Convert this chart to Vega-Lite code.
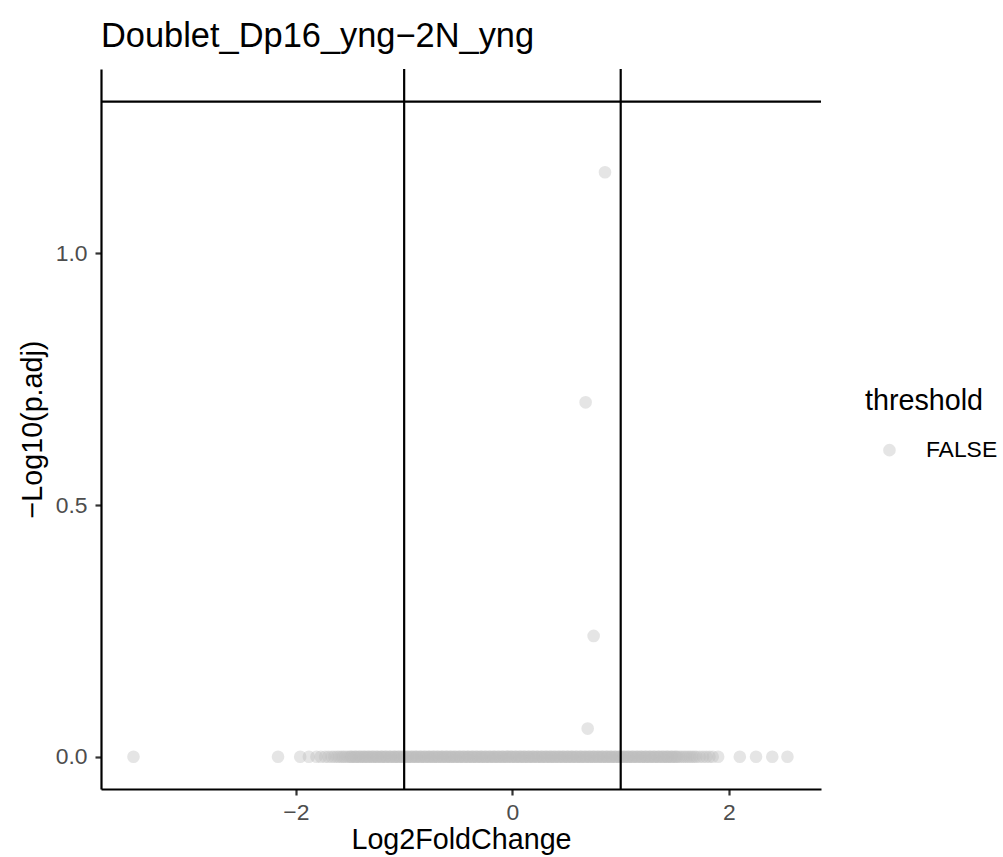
{
  "$schema": "https://vega.github.io/schema/vega-lite/v6.json",
  "width": 720,
  "height": 720,
  "autosize": "none",
  "padding": {"left": 101, "top": 69, "right": 182, "bottom": 68},
  "title": {"text": "Doublet_Dp16_yng−2N_yng", "anchor": "start", "frame": "group", "baseline": "alphabetic", "offset": 22, "dy": 35, "fontSize": 34.4, "font": "Liberation Sans", "fontWeight": "normal", "color": "#000000"},
  "config": {
    "view": {"stroke": null},
    "axis": {"grid": false, "domainColor": "#000000", "domainWidth": 2.2, "tickColor": "#333333", "tickWidth": 2.2, "tickSize": 6, "labelColor": "#4d4d4d", "labelFont": "Liberation Sans", "labelFontSize": 22.9, "titleFont": "Liberation Sans", "titleFontSize": 28.7, "titleFontWeight": "normal", "titleColor": "#000000"}
  },
  "datasets": {
    "genes": [
      {"log2fc": 0.855, "nlp": 1.161, "threshold": "FALSE"},
      {"log2fc": 0.676, "nlp": 0.704, "threshold": "FALSE"},
      {"log2fc": 0.75, "nlp": 0.24, "threshold": "FALSE"},
      {"log2fc": 0.695, "nlp": 0.056, "threshold": "FALSE"},
      {"log2fc": -3.5, "nlp": 0, "threshold": "FALSE"},
      {"log2fc": -2.165, "nlp": 0, "threshold": "FALSE"},
      {"log2fc": -1.96, "nlp": 0, "threshold": "FALSE"},
      {"log2fc": -1.88, "nlp": 0, "threshold": "FALSE"},
      {"log2fc": -1.81, "nlp": 0, "threshold": "FALSE"},
      {"log2fc": -1.77, "nlp": 0, "threshold": "FALSE"},
      {"log2fc": -1.73, "nlp": 0, "threshold": "FALSE"},
      {"log2fc": -1.7, "nlp": 0, "threshold": "FALSE"},
      {"log2fc": -1.67, "nlp": 0, "threshold": "FALSE"},
      {"log2fc": -1.645, "nlp": 0, "threshold": "FALSE"},
      {"log2fc": -1.62, "nlp": 0, "threshold": "FALSE"},
      {"log2fc": -1.6, "nlp": 0, "threshold": "FALSE"},
      {"log2fc": -1.578, "nlp": 0, "threshold": "FALSE"},
      {"log2fc": -1.561, "nlp": 0, "threshold": "FALSE"},
      {"log2fc": -1.543, "nlp": 0, "threshold": "FALSE"},
      {"log2fc": -1.522, "nlp": 0, "threshold": "FALSE"},
      {"log2fc": -1.504, "nlp": 0, "threshold": "FALSE"},
      {"log2fc": -1.483, "nlp": 0, "threshold": "FALSE"},
      {"log2fc": -1.462, "nlp": 0, "threshold": "FALSE"},
      {"log2fc": -1.441, "nlp": 0, "threshold": "FALSE"},
      {"log2fc": -1.423, "nlp": 0, "threshold": "FALSE"},
      {"log2fc": -1.401, "nlp": 0, "threshold": "FALSE"},
      {"log2fc": -1.382, "nlp": 0, "threshold": "FALSE"},
      {"log2fc": -1.36, "nlp": 0, "threshold": "FALSE"},
      {"log2fc": -1.343, "nlp": 0, "threshold": "FALSE"},
      {"log2fc": -1.321, "nlp": 0, "threshold": "FALSE"},
      {"log2fc": -1.302, "nlp": 0, "threshold": "FALSE"},
      {"log2fc": -1.28, "nlp": 0, "threshold": "FALSE"},
      {"log2fc": -1.262, "nlp": 0, "threshold": "FALSE"},
      {"log2fc": -1.241, "nlp": 0, "threshold": "FALSE"},
      {"log2fc": -1.219, "nlp": 0, "threshold": "FALSE"},
      {"log2fc": -1.2, "nlp": 0, "threshold": "FALSE"},
      {"log2fc": -1.181, "nlp": 0, "threshold": "FALSE"},
      {"log2fc": -1.162, "nlp": 0, "threshold": "FALSE"},
      {"log2fc": -1.14, "nlp": 0, "threshold": "FALSE"},
      {"log2fc": -1.121, "nlp": 0, "threshold": "FALSE"},
      {"log2fc": -1.099, "nlp": 0, "threshold": "FALSE"},
      {"log2fc": -1.08, "nlp": 0, "threshold": "FALSE"},
      {"log2fc": -1.061, "nlp": 0, "threshold": "FALSE"},
      {"log2fc": -1.04, "nlp": 0, "threshold": "FALSE"},
      {"log2fc": -1.022, "nlp": 0, "threshold": "FALSE"},
      {"log2fc": -1.001, "nlp": 0, "threshold": "FALSE"},
      {"log2fc": -0.981, "nlp": 0, "threshold": "FALSE"},
      {"log2fc": -0.96, "nlp": 0, "threshold": "FALSE"},
      {"log2fc": -0.942, "nlp": 0, "threshold": "FALSE"},
      {"log2fc": -0.919, "nlp": 0, "threshold": "FALSE"},
      {"log2fc": -0.9, "nlp": 0, "threshold": "FALSE"},
      {"log2fc": -0.882, "nlp": 0, "threshold": "FALSE"},
      {"log2fc": -0.861, "nlp": 0, "threshold": "FALSE"},
      {"log2fc": -0.84, "nlp": 0, "threshold": "FALSE"},
      {"log2fc": -0.821, "nlp": 0, "threshold": "FALSE"},
      {"log2fc": -0.8, "nlp": 0, "threshold": "FALSE"},
      {"log2fc": -0.779, "nlp": 0, "threshold": "FALSE"},
      {"log2fc": -0.761, "nlp": 0, "threshold": "FALSE"},
      {"log2fc": -0.74, "nlp": 0, "threshold": "FALSE"},
      {"log2fc": -0.72, "nlp": 0, "threshold": "FALSE"},
      {"log2fc": -0.701, "nlp": 0, "threshold": "FALSE"},
      {"log2fc": -0.68, "nlp": 0, "threshold": "FALSE"},
      {"log2fc": -0.659, "nlp": 0, "threshold": "FALSE"},
      {"log2fc": -0.641, "nlp": 0, "threshold": "FALSE"},
      {"log2fc": -0.62, "nlp": 0, "threshold": "FALSE"},
      {"log2fc": -0.6, "nlp": 0, "threshold": "FALSE"},
      {"log2fc": -0.581, "nlp": 0, "threshold": "FALSE"},
      {"log2fc": -0.56, "nlp": 0, "threshold": "FALSE"},
      {"log2fc": -0.542, "nlp": 0, "threshold": "FALSE"},
      {"log2fc": -0.52, "nlp": 0, "threshold": "FALSE"},
      {"log2fc": -0.499, "nlp": 0, "threshold": "FALSE"},
      {"log2fc": -0.48, "nlp": 0, "threshold": "FALSE"},
      {"log2fc": -0.461, "nlp": 0, "threshold": "FALSE"},
      {"log2fc": -0.44, "nlp": 0, "threshold": "FALSE"},
      {"log2fc": -0.42, "nlp": 0, "threshold": "FALSE"},
      {"log2fc": -0.401, "nlp": 0, "threshold": "FALSE"},
      {"log2fc": -0.38, "nlp": 0, "threshold": "FALSE"},
      {"log2fc": -0.36, "nlp": 0, "threshold": "FALSE"},
      {"log2fc": -0.341, "nlp": 0, "threshold": "FALSE"},
      {"log2fc": -0.32, "nlp": 0, "threshold": "FALSE"},
      {"log2fc": -0.3, "nlp": 0, "threshold": "FALSE"},
      {"log2fc": -0.281, "nlp": 0, "threshold": "FALSE"},
      {"log2fc": -0.26, "nlp": 0, "threshold": "FALSE"},
      {"log2fc": -0.24, "nlp": 0, "threshold": "FALSE"},
      {"log2fc": -0.221, "nlp": 0, "threshold": "FALSE"},
      {"log2fc": -0.2, "nlp": 0, "threshold": "FALSE"},
      {"log2fc": -0.18, "nlp": 0, "threshold": "FALSE"},
      {"log2fc": -0.161, "nlp": 0, "threshold": "FALSE"},
      {"log2fc": -0.14, "nlp": 0, "threshold": "FALSE"},
      {"log2fc": -0.12, "nlp": 0, "threshold": "FALSE"},
      {"log2fc": -0.101, "nlp": 0, "threshold": "FALSE"},
      {"log2fc": -0.08, "nlp": 0, "threshold": "FALSE"},
      {"log2fc": -0.06, "nlp": 0, "threshold": "FALSE"},
      {"log2fc": -0.041, "nlp": 0, "threshold": "FALSE"},
      {"log2fc": -0.02, "nlp": 0, "threshold": "FALSE"},
      {"log2fc": 0.0, "nlp": 0, "threshold": "FALSE"},
      {"log2fc": 0.021, "nlp": 0, "threshold": "FALSE"},
      {"log2fc": 0.04, "nlp": 0, "threshold": "FALSE"},
      {"log2fc": 0.06, "nlp": 0, "threshold": "FALSE"},
      {"log2fc": 0.081, "nlp": 0, "threshold": "FALSE"},
      {"log2fc": 0.1, "nlp": 0, "threshold": "FALSE"},
      {"log2fc": 0.12, "nlp": 0, "threshold": "FALSE"},
      {"log2fc": 0.141, "nlp": 0, "threshold": "FALSE"},
      {"log2fc": 0.16, "nlp": 0, "threshold": "FALSE"},
      {"log2fc": 0.18, "nlp": 0, "threshold": "FALSE"},
      {"log2fc": 0.199, "nlp": 0, "threshold": "FALSE"},
      {"log2fc": 0.22, "nlp": 0, "threshold": "FALSE"},
      {"log2fc": 0.24, "nlp": 0, "threshold": "FALSE"},
      {"log2fc": 0.261, "nlp": 0, "threshold": "FALSE"},
      {"log2fc": 0.28, "nlp": 0, "threshold": "FALSE"},
      {"log2fc": 0.3, "nlp": 0, "threshold": "FALSE"},
      {"log2fc": 0.321, "nlp": 0, "threshold": "FALSE"},
      {"log2fc": 0.34, "nlp": 0, "threshold": "FALSE"},
      {"log2fc": 0.36, "nlp": 0, "threshold": "FALSE"},
      {"log2fc": 0.379, "nlp": 0, "threshold": "FALSE"},
      {"log2fc": 0.4, "nlp": 0, "threshold": "FALSE"},
      {"log2fc": 0.42, "nlp": 0, "threshold": "FALSE"},
      {"log2fc": 0.441, "nlp": 0, "threshold": "FALSE"},
      {"log2fc": 0.46, "nlp": 0, "threshold": "FALSE"},
      {"log2fc": 0.48, "nlp": 0, "threshold": "FALSE"},
      {"log2fc": 0.501, "nlp": 0, "threshold": "FALSE"},
      {"log2fc": 0.52, "nlp": 0, "threshold": "FALSE"},
      {"log2fc": 0.54, "nlp": 0, "threshold": "FALSE"},
      {"log2fc": 0.559, "nlp": 0, "threshold": "FALSE"},
      {"log2fc": 0.58, "nlp": 0, "threshold": "FALSE"},
      {"log2fc": 0.6, "nlp": 0, "threshold": "FALSE"},
      {"log2fc": 0.621, "nlp": 0, "threshold": "FALSE"},
      {"log2fc": 0.64, "nlp": 0, "threshold": "FALSE"},
      {"log2fc": 0.66, "nlp": 0, "threshold": "FALSE"},
      {"log2fc": 0.681, "nlp": 0, "threshold": "FALSE"},
      {"log2fc": 0.7, "nlp": 0, "threshold": "FALSE"},
      {"log2fc": 0.72, "nlp": 0, "threshold": "FALSE"},
      {"log2fc": 0.739, "nlp": 0, "threshold": "FALSE"},
      {"log2fc": 0.76, "nlp": 0, "threshold": "FALSE"},
      {"log2fc": 0.78, "nlp": 0, "threshold": "FALSE"},
      {"log2fc": 0.801, "nlp": 0, "threshold": "FALSE"},
      {"log2fc": 0.82, "nlp": 0, "threshold": "FALSE"},
      {"log2fc": 0.84, "nlp": 0, "threshold": "FALSE"},
      {"log2fc": 0.861, "nlp": 0, "threshold": "FALSE"},
      {"log2fc": 0.88, "nlp": 0, "threshold": "FALSE"},
      {"log2fc": 0.9, "nlp": 0, "threshold": "FALSE"},
      {"log2fc": 0.919, "nlp": 0, "threshold": "FALSE"},
      {"log2fc": 0.94, "nlp": 0, "threshold": "FALSE"},
      {"log2fc": 0.96, "nlp": 0, "threshold": "FALSE"},
      {"log2fc": 0.981, "nlp": 0, "threshold": "FALSE"},
      {"log2fc": 1.0, "nlp": 0, "threshold": "FALSE"},
      {"log2fc": 1.02, "nlp": 0, "threshold": "FALSE"},
      {"log2fc": 1.041, "nlp": 0, "threshold": "FALSE"},
      {"log2fc": 1.06, "nlp": 0, "threshold": "FALSE"},
      {"log2fc": 1.08, "nlp": 0, "threshold": "FALSE"},
      {"log2fc": 1.099, "nlp": 0, "threshold": "FALSE"},
      {"log2fc": 1.12, "nlp": 0, "threshold": "FALSE"},
      {"log2fc": 1.14, "nlp": 0, "threshold": "FALSE"},
      {"log2fc": 1.161, "nlp": 0, "threshold": "FALSE"},
      {"log2fc": 1.18, "nlp": 0, "threshold": "FALSE"},
      {"log2fc": 1.2, "nlp": 0, "threshold": "FALSE"},
      {"log2fc": 1.221, "nlp": 0, "threshold": "FALSE"},
      {"log2fc": 1.24, "nlp": 0, "threshold": "FALSE"},
      {"log2fc": 1.26, "nlp": 0, "threshold": "FALSE"},
      {"log2fc": 1.279, "nlp": 0, "threshold": "FALSE"},
      {"log2fc": 1.3, "nlp": 0, "threshold": "FALSE"},
      {"log2fc": 1.32, "nlp": 0, "threshold": "FALSE"},
      {"log2fc": 1.341, "nlp": 0, "threshold": "FALSE"},
      {"log2fc": 1.36, "nlp": 0, "threshold": "FALSE"},
      {"log2fc": 1.38, "nlp": 0, "threshold": "FALSE"},
      {"log2fc": 1.401, "nlp": 0, "threshold": "FALSE"},
      {"log2fc": 1.42, "nlp": 0, "threshold": "FALSE"},
      {"log2fc": 1.44, "nlp": 0, "threshold": "FALSE"},
      {"log2fc": 1.459, "nlp": 0, "threshold": "FALSE"},
      {"log2fc": 1.48, "nlp": 0, "threshold": "FALSE"},
      {"log2fc": 1.5, "nlp": 0, "threshold": "FALSE"},
      {"log2fc": 1.521, "nlp": 0, "threshold": "FALSE"},
      {"log2fc": 1.54, "nlp": 0, "threshold": "FALSE"},
      {"log2fc": 1.56, "nlp": 0, "threshold": "FALSE"},
      {"log2fc": 1.581, "nlp": 0, "threshold": "FALSE"},
      {"log2fc": 1.6, "nlp": 0, "threshold": "FALSE"},
      {"log2fc": 1.62, "nlp": 0, "threshold": "FALSE"},
      {"log2fc": 1.64, "nlp": 0, "threshold": "FALSE"},
      {"log2fc": 1.66, "nlp": 0, "threshold": "FALSE"},
      {"log2fc": 1.68, "nlp": 0, "threshold": "FALSE"},
      {"log2fc": 1.7, "nlp": 0, "threshold": "FALSE"},
      {"log2fc": 1.73, "nlp": 0, "threshold": "FALSE"},
      {"log2fc": 1.76, "nlp": 0, "threshold": "FALSE"},
      {"log2fc": 1.79, "nlp": 0, "threshold": "FALSE"},
      {"log2fc": 1.82, "nlp": 0, "threshold": "FALSE"},
      {"log2fc": 1.85, "nlp": 0, "threshold": "FALSE"},
      {"log2fc": 1.9, "nlp": 0, "threshold": "FALSE"},
      {"log2fc": 2.1, "nlp": 0, "threshold": "FALSE"},
      {"log2fc": 2.25, "nlp": 0, "threshold": "FALSE"},
      {"log2fc": 2.4, "nlp": 0, "threshold": "FALSE"},
      {"log2fc": 2.54, "nlp": 0, "threshold": "FALSE"},
      {"log2fc": -1.49, "nlp": 0, "threshold": "FALSE"},
      {"log2fc": -1.45, "nlp": 0, "threshold": "FALSE"},
      {"log2fc": -1.41, "nlp": 0, "threshold": "FALSE"},
      {"log2fc": -1.37, "nlp": 0, "threshold": "FALSE"},
      {"log2fc": -1.33, "nlp": 0, "threshold": "FALSE"},
      {"log2fc": -1.29, "nlp": 0, "threshold": "FALSE"},
      {"log2fc": -1.25, "nlp": 0, "threshold": "FALSE"},
      {"log2fc": -1.21, "nlp": 0, "threshold": "FALSE"},
      {"log2fc": -1.17, "nlp": 0, "threshold": "FALSE"},
      {"log2fc": -1.13, "nlp": 0, "threshold": "FALSE"},
      {"log2fc": -1.09, "nlp": 0, "threshold": "FALSE"},
      {"log2fc": -1.05, "nlp": 0, "threshold": "FALSE"},
      {"log2fc": -1.01, "nlp": 0, "threshold": "FALSE"},
      {"log2fc": -0.97, "nlp": 0, "threshold": "FALSE"},
      {"log2fc": -0.93, "nlp": 0, "threshold": "FALSE"},
      {"log2fc": -0.89, "nlp": 0, "threshold": "FALSE"},
      {"log2fc": -0.85, "nlp": 0, "threshold": "FALSE"},
      {"log2fc": -0.81, "nlp": 0, "threshold": "FALSE"},
      {"log2fc": -0.77, "nlp": 0, "threshold": "FALSE"},
      {"log2fc": -0.73, "nlp": 0, "threshold": "FALSE"},
      {"log2fc": -0.69, "nlp": 0, "threshold": "FALSE"},
      {"log2fc": -0.65, "nlp": 0, "threshold": "FALSE"},
      {"log2fc": -0.61, "nlp": 0, "threshold": "FALSE"},
      {"log2fc": -0.57, "nlp": 0, "threshold": "FALSE"},
      {"log2fc": -0.53, "nlp": 0, "threshold": "FALSE"},
      {"log2fc": -0.49, "nlp": 0, "threshold": "FALSE"},
      {"log2fc": -0.45, "nlp": 0, "threshold": "FALSE"},
      {"log2fc": -0.41, "nlp": 0, "threshold": "FALSE"},
      {"log2fc": -0.37, "nlp": 0, "threshold": "FALSE"},
      {"log2fc": -0.33, "nlp": 0, "threshold": "FALSE"},
      {"log2fc": -0.29, "nlp": 0, "threshold": "FALSE"},
      {"log2fc": -0.25, "nlp": 0, "threshold": "FALSE"},
      {"log2fc": -0.21, "nlp": 0, "threshold": "FALSE"},
      {"log2fc": -0.17, "nlp": 0, "threshold": "FALSE"},
      {"log2fc": -0.13, "nlp": 0, "threshold": "FALSE"},
      {"log2fc": -0.09, "nlp": 0, "threshold": "FALSE"},
      {"log2fc": -0.05, "nlp": 0, "threshold": "FALSE"},
      {"log2fc": -0.01, "nlp": 0, "threshold": "FALSE"},
      {"log2fc": 0.03, "nlp": 0, "threshold": "FALSE"},
      {"log2fc": 0.07, "nlp": 0, "threshold": "FALSE"},
      {"log2fc": 0.11, "nlp": 0, "threshold": "FALSE"},
      {"log2fc": 0.15, "nlp": 0, "threshold": "FALSE"},
      {"log2fc": 0.19, "nlp": 0, "threshold": "FALSE"},
      {"log2fc": 0.23, "nlp": 0, "threshold": "FALSE"},
      {"log2fc": 0.27, "nlp": 0, "threshold": "FALSE"},
      {"log2fc": 0.31, "nlp": 0, "threshold": "FALSE"},
      {"log2fc": 0.35, "nlp": 0, "threshold": "FALSE"},
      {"log2fc": 0.39, "nlp": 0, "threshold": "FALSE"},
      {"log2fc": 0.43, "nlp": 0, "threshold": "FALSE"},
      {"log2fc": 0.47, "nlp": 0, "threshold": "FALSE"},
      {"log2fc": 0.51, "nlp": 0, "threshold": "FALSE"},
      {"log2fc": 0.55, "nlp": 0, "threshold": "FALSE"},
      {"log2fc": 0.59, "nlp": 0, "threshold": "FALSE"},
      {"log2fc": 0.63, "nlp": 0, "threshold": "FALSE"},
      {"log2fc": 0.67, "nlp": 0, "threshold": "FALSE"},
      {"log2fc": 0.71, "nlp": 0, "threshold": "FALSE"},
      {"log2fc": 0.75, "nlp": 0, "threshold": "FALSE"},
      {"log2fc": 0.79, "nlp": 0, "threshold": "FALSE"},
      {"log2fc": 0.83, "nlp": 0, "threshold": "FALSE"},
      {"log2fc": 0.87, "nlp": 0, "threshold": "FALSE"},
      {"log2fc": 0.91, "nlp": 0, "threshold": "FALSE"},
      {"log2fc": 0.95, "nlp": 0, "threshold": "FALSE"},
      {"log2fc": 0.99, "nlp": 0, "threshold": "FALSE"},
      {"log2fc": 1.03, "nlp": 0, "threshold": "FALSE"},
      {"log2fc": 1.07, "nlp": 0, "threshold": "FALSE"},
      {"log2fc": 1.11, "nlp": 0, "threshold": "FALSE"},
      {"log2fc": 1.15, "nlp": 0, "threshold": "FALSE"},
      {"log2fc": 1.19, "nlp": 0, "threshold": "FALSE"},
      {"log2fc": 1.23, "nlp": 0, "threshold": "FALSE"},
      {"log2fc": 1.27, "nlp": 0, "threshold": "FALSE"},
      {"log2fc": 1.31, "nlp": 0, "threshold": "FALSE"},
      {"log2fc": 1.35, "nlp": 0, "threshold": "FALSE"},
      {"log2fc": 1.39, "nlp": 0, "threshold": "FALSE"},
      {"log2fc": 1.43, "nlp": 0, "threshold": "FALSE"},
      {"log2fc": 1.47, "nlp": 0, "threshold": "FALSE"},
      {"log2fc": 1.51, "nlp": 0, "threshold": "FALSE"}
    ]
  },
  "layer": [
    {
      "data": {"name": "genes"},
      "mark": {"type": "point", "shape": "circle", "filled": true, "size": 160, "opacity": 0.4, "strokeWidth": 0},
      "encoding": {
        "x": {"field": "log2fc", "type": "quantitative", "scale": {"domain": [-3.8, 2.85], "nice": false, "zero": false}, "axis": {"values": [-2, 0, 2], "format": "d", "title": "Log2FoldChange", "labelPadding": 6, "titlePadding": 2}},
        "y": {"field": "nlp", "type": "quantitative", "scale": {"domain": [-0.064, 1.366], "nice": false, "zero": false}, "axis": {"values": [0, 0.5, 1], "format": ".1f", "title": "−Log10(p.adj)", "labelPadding": 8, "titlePadding": 8}},
        "color": {"field": "threshold", "type": "nominal", "scale": {"range": ["#bebebe"]}, "legend": {"orient": "none", "legendX": 764, "legendY": 318, "title": "threshold", "titleFont": "Liberation Sans", "titleFontSize": 28.7, "titleFontWeight": "normal", "titleColor": "#000000", "titlePadding": 23, "labelFont": "Liberation Sans", "labelFontSize": 22.9, "labelColor": "#000000", "symbolType": "circle", "symbolSize": 160, "symbolOpacity": 0.4, "symbolFillColor": "#bebebe", "symbolStrokeWidth": 0, "symbolOffset": 13, "labelOffset": 25, "padding": 0}}
      }
    },
    {
      "data": {"values": [{"v": -1}, {"v": 1}]},
      "mark": {"type": "rule", "color": "#000000", "strokeWidth": 2.2},
      "encoding": {"x": {"field": "v", "type": "quantitative"}}
    },
    {
      "data": {"values": [{"h": 1.30103}]},
      "mark": {"type": "rule", "color": "#000000", "strokeWidth": 2.2},
      "encoding": {"y": {"field": "h", "type": "quantitative"}}
    }
  ]
}
